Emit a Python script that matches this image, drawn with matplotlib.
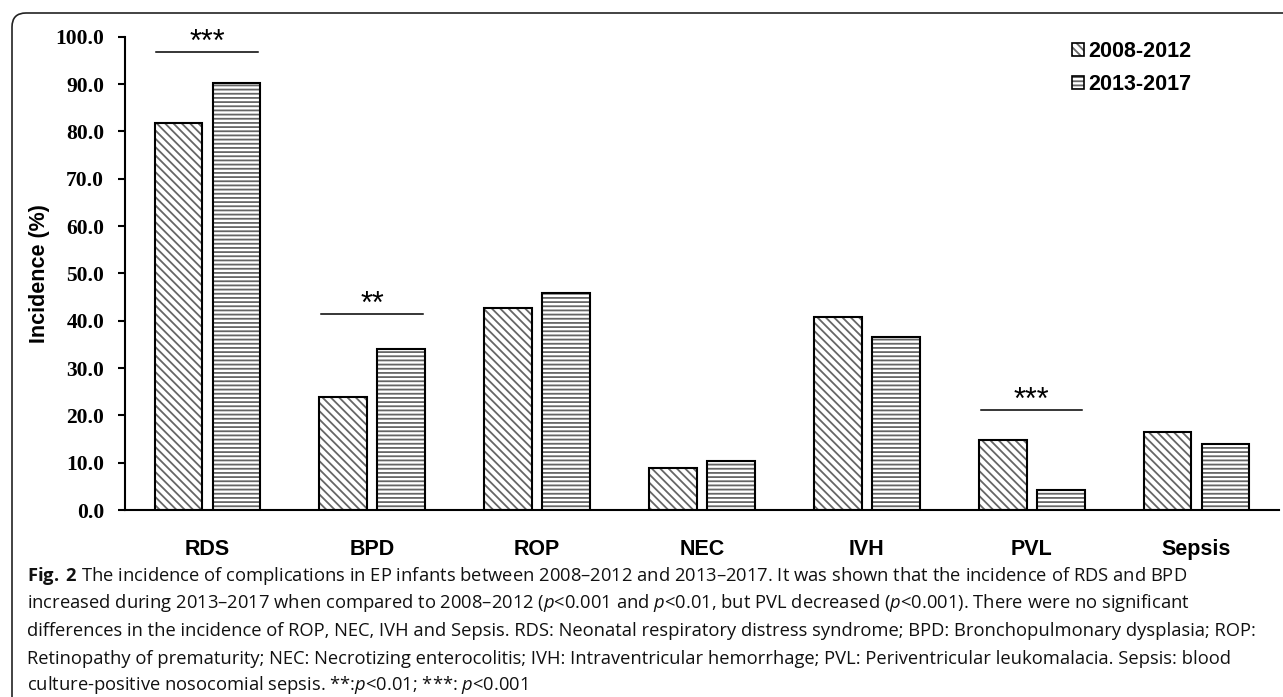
import matplotlib
matplotlib.use('Agg')
import matplotlib.pyplot as plt
import numpy as np
from matplotlib.patches import Patch, FancyBboxPatch
from matplotlib.transforms import IdentityTransform

# data
categories = ['RDS', 'BPD', 'ROP', 'NEC', 'IVH', 'PVL', 'Sepsis']
inc_2008_2012 = [81.7, 23.8, 42.7, 8.9, 40.8, 14.7, 16.5]
inc_2013_2017 = [90.3, 34.0, 45.8, 10.4, 36.5, 4.2, 13.9]
period_labels = ['2008-2012', '2013-2017']
yticks = np.arange(0, 101, 10)

# significance brackets
sig_idx = [0, 1, 5]
sig_level = [96.7, 41.4, 21.1]
sig_stars = ['***', '**', '***']

caption_lines = [
    r'$\mathbf{Fig.\;2}$ The incidence of complications in EP infants between 2008–2012 and 2013–2017. It was shown that the incidence of RDS and BPD',
    r'increased during 2013–2017 when compared to 2008–2012 ($\mathit{p}$<0.001 and $\mathit{p}$<0.01, but PVL decreased ($\mathit{p}$<0.001). There were no significant',
    r'differences in the incidence of ROP, NEC, IVH and Sepsis. RDS: Neonatal respiratory distress syndrome; BPD: Bronchopulmonary dysplasia; ROP:',
    r'Retinopathy of prematurity; NEC: Necrotizing enterocolitis; IVH: Intraventricular hemorrhage; PVL: Periventricular leukomalacia. Sepsis: blood',
    r'culture-positive nosocomial sepsis. **:$\mathit{p}$<0.01; ***: $\mathit{p}$<0.001',
]

plt.rcParams.update({
    'hatch.linewidth': 1.3,
    'mathtext.fontset': 'custom',
    'mathtext.rm': 'Open Sans',
    'mathtext.it': 'Open Sans:italic',
    'mathtext.bf': 'Open Sans:bold',
})

W, H = 1283, 697
fig = plt.figure(figsize=(W / 100, H / 100), dpi=100)
ax = fig.add_axes([125 / W, 1 - 510 / H, 1154 / W, 473.3 / H])

x = np.arange(len(categories))
w = 0.29
off = 0.176
hatch_gray = '#666666'
h1, h2 = '\\\\\\\\', '----'

ax.bar(x - off, inc_2008_2012, w, color='white', edgecolor=hatch_gray, hatch=h1, linewidth=0)
ax.bar(x - off, inc_2008_2012, w, fill=False, edgecolor='black', linewidth=1.5)
ax.bar(x + off, inc_2013_2017, w, color='white', edgecolor=hatch_gray, hatch=h2, linewidth=0)
ax.bar(x + off, inc_2013_2017, w, fill=False, edgecolor='black', linewidth=1.5)

for i, lvl, st in zip(sig_idx, sig_level, sig_stars):
    ax.plot([i - 0.31, i + 0.305], [lvl, lvl], color='black', lw=1.1, clip_on=False)
    ax.annotate(st, xy=(i, lvl), xytext=(0, 1), textcoords='offset points',
                ha='center', va='baseline', fontsize=22, family='Liberation Sans',
                annotation_clip=False)

ax.set_xlim(-0.5, 6.5)
ax.set_ylim(0, 100)
ax.set_yticks(yticks)
ax.set_yticklabels([f'{v:.1f}' for v in yticks], family='Liberation Serif',
                   fontweight='bold', fontsize=15.5)
ax.set_xticks(x)
ax.set_xticklabels(categories, family='Liberation Sans', fontweight='bold', fontsize=15.5)
ax.tick_params(axis='x', length=0, pad=21)
ax.tick_params(axis='y', direction='out', length=5, width=1.5, pad=10)
for s in ['top', 'right']:
    ax.spines[s].set_visible(False)
for s in ['left', 'bottom']:
    ax.spines[s].set_linewidth(1.5)

ax.set_ylabel('Incidence (%)', family='Liberation Sans', fontweight='bold', fontsize=15.5)
ax.yaxis.set_label_coords(-0.074, 0.5)
ax.yaxis.label.set_verticalalignment('center')

handles = [
    (Patch(facecolor='white', edgecolor=hatch_gray, hatch=h1, lw=0),
     Patch(fill=False, edgecolor='black', lw=1.2)),
    (Patch(facecolor='white', edgecolor=hatch_gray, hatch=h2, lw=0),
     Patch(fill=False, edgecolor='black', lw=1.2)),
]
ax.legend(handles, period_labels, loc='upper left',
          bbox_to_anchor=(1072 / W, 1 - 41 / H), bbox_transform=fig.transFigure,
          frameon=False, prop={'family': 'Liberation Sans', 'weight': 'bold', 'size': 15.5},
          handlelength=0.55, handleheight=0.55, handletextpad=0.2,
          labelspacing=0.55, borderpad=0, borderaxespad=0)

# article frame
frame = FancyBboxPatch((12, -40), 1330, H - 13 + 40,
                       boxstyle='round,pad=0,rounding_size=14',
                       transform=IdentityTransform(), fill=False,
                       edgecolor='#222222', linewidth=1.2)
fig.add_artist(frame)

cap_y = [576, 603.5, 631, 658.5, 685]
for line, yy in zip(caption_lines, cap_y):
    fig.text(27 / W, 1 - yy / H, line, fontsize=13.2, family='Open Sans',
             ha='left', va='center', color='#111111')

fig.savefig('out.png', dpi=100)
